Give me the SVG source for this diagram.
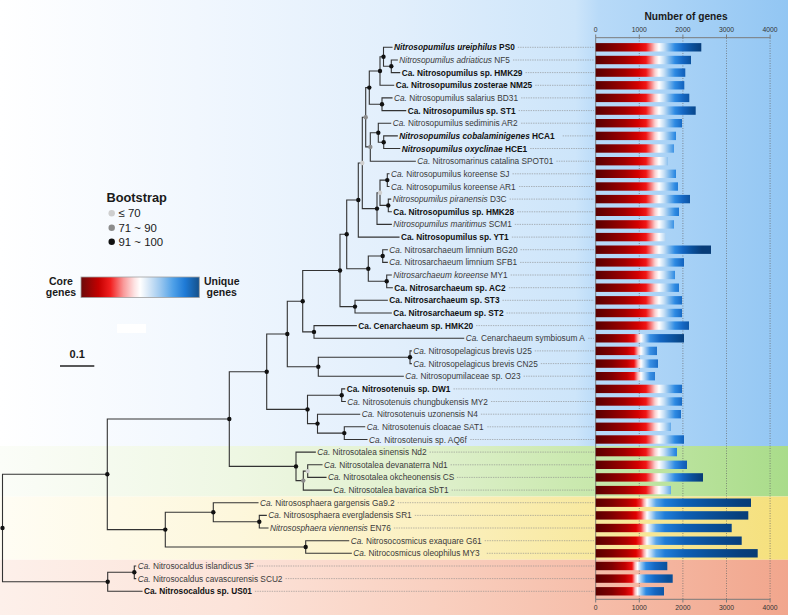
<svg xmlns="http://www.w3.org/2000/svg" width="788" height="615" viewBox="0 0 788 615">
<style>
.edge{fill:none;stroke:#333;stroke-width:1.1;stroke-linecap:square}
.lead{fill:none;stroke:#8a8a8a;stroke-width:0.6;stroke-dasharray:1.4 1}
.lb{font-family:"Liberation Sans",Arial,sans-serif;font-size:8.3px;fill:#3a3a3a}
.b{font-weight:bold;fill:#111}
.i{font-style:italic}
.d1{fill:#111}.d2{fill:#8c8c8c}.d3{fill:#cfcfcf}
.grid{stroke:#666;stroke-width:0.7;stroke-dasharray:1 1.5}
.ax{stroke:#7a7a7a;stroke-width:1;fill:none}
.tk{font-family:"Liberation Sans",Arial,sans-serif;font-size:6.8px;fill:#333;text-anchor:middle}
.lg{font-family:"Liberation Sans",Arial,sans-serif;fill:#1a1a1a}
.bar{height:8.4px}
</style>
<defs>
<linearGradient id="bgB" x1="0" y1="0" x2="788" y2="0" gradientUnits="userSpaceOnUse">
<stop offset="0" stop-color="#ffffff"/><stop offset="0.25" stop-color="#f1f7fe"/><stop offset="0.5" stop-color="#e2effc"/><stop offset="0.73" stop-color="#cde5fa"/><stop offset="0.76" stop-color="#b8daf8"/><stop offset="1" stop-color="#92c6f3"/>
</linearGradient>
<linearGradient id="bgG" x1="0" y1="0" x2="788" y2="0" gradientUnits="userSpaceOnUse">
<stop offset="0" stop-color="#fbfdf8"/><stop offset="0.3" stop-color="#eef7e3"/><stop offset="0.55" stop-color="#dff0cc"/><stop offset="0.75" stop-color="#c8e8ac"/><stop offset="1" stop-color="#a9dc8a"/>
</linearGradient>
<linearGradient id="bgY" x1="0" y1="0" x2="788" y2="0" gradientUnits="userSpaceOnUse">
<stop offset="0" stop-color="#fffdf4"/><stop offset="0.3" stop-color="#fdf7dc"/><stop offset="0.55" stop-color="#fbf0c0"/><stop offset="0.75" stop-color="#f8e9a0"/><stop offset="1" stop-color="#f5e07c"/>
</linearGradient>
<linearGradient id="bgR" x1="0" y1="0" x2="788" y2="0" gradientUnits="userSpaceOnUse">
<stop offset="0" stop-color="#fdf0ea"/><stop offset="0.3" stop-color="#fce3d9"/><stop offset="0.55" stop-color="#f9d0c0"/><stop offset="0.75" stop-color="#f6beaa"/><stop offset="1" stop-color="#f1a68d"/>
</linearGradient>
<linearGradient id="g1" x1="595.7" y1="0" x2="795.7" y2="0" gradientUnits="userSpaceOnUse">
<stop offset="0" stop-color="#5a0000"/><stop offset="0.0715" stop-color="#7a0000"/><stop offset="0.1465" stop-color="#a00000"/><stop offset="0.2115" stop-color="#d40000"/><stop offset="0.2515" stop-color="#f01515"/><stop offset="0.2765" stop-color="#f77a7a"/><stop offset="0.2965" stop-color="#fcd0d0"/><stop offset="0.3165" stop-color="#ffffff"/><stop offset="0.3415" stop-color="#c6dff5"/><stop offset="0.3665" stop-color="#7db8ec"/><stop offset="0.3965" stop-color="#2d8ae3"/><stop offset="0.4365" stop-color="#1466c2"/><stop offset="0.4815" stop-color="#0a4f9a"/><stop offset="0.5315" stop-color="#073c78"/>
</linearGradient>
<linearGradient id="g2" x1="595.7" y1="0" x2="795.7" y2="0" gradientUnits="userSpaceOnUse">
<stop offset="0" stop-color="#5a0000"/><stop offset="0.0815" stop-color="#7e0000"/><stop offset="0.1565" stop-color="#b00000"/><stop offset="0.2015" stop-color="#e00000"/><stop offset="0.2265" stop-color="#f53a3a"/><stop offset="0.2415" stop-color="#fbb0b0"/><stop offset="0.2565" stop-color="#ffffff"/><stop offset="0.2765" stop-color="#bcdaf5"/><stop offset="0.3015" stop-color="#5aa6ea"/><stop offset="0.3465" stop-color="#1f7cd8"/><stop offset="0.4465" stop-color="#0d5fb5"/><stop offset="0.5715" stop-color="#0a4f98"/><stop offset="0.7215" stop-color="#073f7d"/><stop offset="0.8215" stop-color="#063a72"/>
</linearGradient>
<linearGradient id="g3" x1="595.7" y1="0" x2="795.7" y2="0" gradientUnits="userSpaceOnUse">
<stop offset="0" stop-color="#5a0000"/><stop offset="0.0815" stop-color="#800000"/><stop offset="0.1465" stop-color="#c00000"/><stop offset="0.1815" stop-color="#f01010"/><stop offset="0.1965" stop-color="#fbbbbb"/><stop offset="0.209" stop-color="#ffffff"/><stop offset="0.2265" stop-color="#9ccbf2"/><stop offset="0.2515" stop-color="#2d8ae3"/><stop offset="0.2965" stop-color="#1466c2"/><stop offset="0.3615" stop-color="#0a4f98"/>
</linearGradient>
<linearGradient id="g4" x1="595.7" y1="0" x2="795.7" y2="0" gradientUnits="userSpaceOnUse">
<stop offset="0" stop-color="#5a0000"/><stop offset="0.0815" stop-color="#800000"/><stop offset="0.1565" stop-color="#c00000"/><stop offset="0.1915" stop-color="#f01010"/><stop offset="0.2115" stop-color="#fbbbbb"/><stop offset="0.2265" stop-color="#ffffff"/><stop offset="0.2465" stop-color="#aad0f3"/><stop offset="0.2715" stop-color="#3a90e4"/><stop offset="0.3215" stop-color="#1466c2"/><stop offset="0.3965" stop-color="#0a4f98"/><stop offset="0.4465" stop-color="#073f7c"/>
</linearGradient>
<linearGradient id="lgd" x1="0" y1="0" x2="1" y2="0">
<stop offset="0" stop-color="#6b0a0a"/><stop offset="0.15" stop-color="#c40000"/><stop offset="0.25" stop-color="#f22020"/><stop offset="0.36" stop-color="#f99a9a"/><stop offset="0.45" stop-color="#fde2e2"/><stop offset="0.5" stop-color="#ffffff"/><stop offset="0.57" stop-color="#d8e8f7"/><stop offset="0.67" stop-color="#9cc8ef"/><stop offset="0.78" stop-color="#4ea0e8"/><stop offset="0.88" stop-color="#1e7ad6"/><stop offset="1" stop-color="#15508a"/>
</linearGradient>
</defs>

<g id="background">
<rect x="0" y="0" width="788" height="446" fill="url(#bgB)"/>
<rect x="0" y="446" width="788" height="50.5" fill="url(#bgG)"/>
<rect x="0" y="496.5" width="788" height="63.3" fill="url(#bgY)"/>
<rect x="0" y="559.8" width="788" height="55.2" fill="url(#bgR)"/>
<rect x="117" y="324" width="29" height="9" fill="#ffffff"/>
</g>

<g id="axes">
<text x="686" y="19.5" class="lg" font-size="10.2" font-weight="bold" text-anchor="middle">Number of genes</text>
<path class="ax" d="M595.7 37.7H770.5M595.7 599.3H770.5"/>
<path class="ax" d="M595.7 34.5V37.7M639.3 34.5V37.7M682.9 34.5V37.7M726.5 34.5V37.7M770.1 34.5V37.7M595.7 599.3V602.5M639.3 599.3V602.5M682.9 599.3V602.5M726.5 599.3V602.5M770.1 599.3V602.5"/>
<path class="grid" d="M639.3 38V599M682.9 38V599M726.5 38V599M770.1 38V599"/>
<line x1="595.7" y1="37.7" x2="595.7" y2="599.3" stroke="#666" stroke-width="0.8"/>
<text class="tk" x="595.7" y="32.3">0</text><text class="tk" x="639.3" y="32.3">1000</text><text class="tk" x="682.9" y="32.3">2000</text><text class="tk" x="726.5" y="32.3">3000</text><text class="tk" x="770.1" y="32.3">4000</text>
<text class="tk" x="595.7" y="609.5">0</text><text class="tk" x="639.3" y="609.5">1000</text><text class="tk" x="682.9" y="609.5">2000</text><text class="tk" x="726.5" y="609.5">3000</text><text class="tk" x="770.1" y="609.5">4000</text>
</g>

<g id="legend-bootstrap">
<text x="136.7" y="201.8" class="lg" font-size="12.8" font-weight="bold" text-anchor="middle">Bootstrap</text>
<circle cx="111.7" cy="213.3" r="3.2" class="d3"/><text x="118.5" y="217.3" class="lg" font-size="11.4">≤ 70</text>
<circle cx="111.7" cy="227.7" r="3.2" class="d2"/><text x="118.5" y="231.7" class="lg" font-size="11.4">71 ~ 90</text>
<circle cx="111.7" cy="241.7" r="3.2" class="d1"/><text x="118.5" y="245.7" class="lg" font-size="11.4">91 ~ 100</text>
</g>
<g id="legend-colour">
<rect x="81" y="277" width="118.3" height="20.5" fill="url(#lgd)" stroke="#a0a0a0" stroke-width="0.8"/>
<text x="61" y="284.6" class="lg" font-size="10.5" font-weight="bold" text-anchor="middle">Core</text>
<text x="61" y="295.6" class="lg" font-size="10.5" font-weight="bold" text-anchor="middle">genes</text>
<text x="221.7" y="284.6" class="lg" font-size="10.5" font-weight="bold" text-anchor="middle">Unique</text>
<text x="221.7" y="295.6" class="lg" font-size="10.5" font-weight="bold" text-anchor="middle">genes</text>
</g>
<g id="scale-bar">
<text x="77.2" y="358" class="lg" font-size="11" font-weight="bold" text-anchor="middle">0.1</text>
<line x1="60" y1="366" x2="94.3" y2="366" stroke="#222" stroke-width="1.5"/>
</g>

<g id="connectors">
<path class="edge" d="M397.3 60H391.3V72.6H399.7M392 47.3H383.5V66.3H391.3M383.5 56.8H380V85.3H393.7M392 97.9H382V110.6H405.7M380 71H369.3V104.2H382M397.3 135.9H383.7V148.5H399.7M390.7 123.2H378.3V142.2H383.7M378.3 132.7H370.3V161.2H415.3M369.3 87.6H365.7V146.9H370.3M389 173.8H387.3V186.5H389M390.7 199.1H388.3V211.8H391.3M387.3 180.1H380V205.4H388.3M380 192.8H377V224.4H391.3M365.7 117.3H362.3V208.6H377M362.3 163H358.3V237.1H399M387.3 249.7H382.7V262.4H387.3M391.3 275H386.7V287.7H392.3M382.7 256H368.3V281.3H386.7M358.3 200H346.7V268.7H368.3M387.3 300.3H355V313H391.3M346.7 234.3H340V306.6H355M356.3 325.6H314V338.3H463.7M340 270.5H302.7V331.9H314M411.3 350.9H410V363.6H411.3M410 357.2H318.3V376.2H403.3M302.7 301.2H287.3V366.7H318.3M344.7 388.9H341.7V401.5H345.3M364.7 426.8H344.3V439.5H367M359.7 414.2H317.5V433.1H344.3M341.7 395.2H307.5V423.6H317.5M287.3 334H266.7V409.4H307.5M322 464.8H307.7V477.4H326M307.7 471.1H303.3V490.1H331.3M315.3 452.1H296V480.6H303.3M266.7 371.7H229.3V466.4H296M266.3 515.4H259.3V528H268M258 502.7H213.3V521.7H259.3M348.7 540.7H305.7V553.3H351.3M213.3 512.2H165.3V547H305.7M229.3 419H107.3V529.6H165.3M135.7 566H134.3V578.6H135.7M134.3 572.3H107.7V591.3H142M107.3 474.3H2.5V581.8H107.7"/>
<path class="lead" d="M517.8 47.3H594M513 60H594M525.5 72.6H594M535.2 85.3H594M521.1 97.9H594M518.6 110.6H594M521.1 123.2H594M562.7 135.9H594M530.2 148.5H594M556.4 161.2H594M512.5 173.8H594M519 186.5H594M509.6 199.1H594M517.1 211.8H594M514.8 224.4H594M511.9 237.1H594M520.5 249.7H594M520.1 262.4H594M510.7 275H594M508.9 287.7H594M502.5 300.3H594M506.5 313H594M476.1 325.6H594M588.2 338.3H594M534.8 350.9H594M540.8 363.6H594M523.6 376.2H594M453.5 388.9H594M491 401.5H594M480.9 414.2H594M487.3 426.8H594M470.3 439.5H594M429.6 452.1H594M450.6 464.8H594M456.9 477.4H594M451.6 490.1H594M397.7 502.7H594M414.8 515.4H594M393.9 528H594M484.7 540.7H594M486.8 553.3H594M256.9 566H594M285.5 578.6H594M254.9 591.3H594"/>
</g>

<g id="internal-nodes">
<circle id="n-a" cx="391.3" cy="66.3" r="2.2" class="d1"/>
<circle id="n-b" cx="383.5" cy="56.8" r="2.2" class="d1"/>
<circle id="n-c" cx="380" cy="71" r="2.2" class="d1"/>
<circle id="n-d" cx="382" cy="104.2" r="2.2" class="d1"/>
<circle id="n-e" cx="369.3" cy="87.6" r="2.2" class="d1"/>
<circle id="n-f" cx="383.7" cy="142.2" r="2.2" class="d1"/>
<circle id="n-g" cx="378.3" cy="132.7" r="2.2" class="d1"/>
<circle id="n-h" cx="370.3" cy="146.9" r="2.2" class="d2"/>
<circle id="n-i" cx="365.7" cy="117.3" r="2.2" class="d2"/>
<circle id="n-j" cx="387.3" cy="180.1" r="2.2" class="d1"/>
<circle id="n-k" cx="388.3" cy="205.4" r="2.2" class="d1"/>
<circle id="n-l" cx="380" cy="192.8" r="2.2" class="d3"/>
<circle id="n-m" cx="377" cy="208.6" r="2.2" class="d1"/>
<circle id="n-n" cx="362.3" cy="163" r="2.2" class="d3"/>
<circle id="n-o" cx="358.3" cy="200" r="2.2" class="d1"/>
<circle id="n-p" cx="382.7" cy="256" r="2.2" class="d1"/>
<circle id="n-q" cx="386.7" cy="281.3" r="2.2" class="d1"/>
<circle id="n-r" cx="368.3" cy="268.7" r="2.2" class="d1"/>
<circle id="n-s" cx="346.7" cy="234.3" r="2.2" class="d1"/>
<circle id="n-t" cx="355" cy="306.6" r="2.2" class="d1"/>
<circle id="n-u" cx="340" cy="270.5" r="2.2" class="d1"/>
<circle id="n-v" cx="314" cy="331.9" r="2.2" class="d1"/>
<circle id="n-w" cx="302.7" cy="301.2" r="2.2" class="d1"/>
<circle id="n-x" cx="410" cy="357.2" r="2.2" class="d1"/>
<circle id="n-y" cx="318.3" cy="366.7" r="2.2" class="d1"/>
<circle id="n-z" cx="287.3" cy="334" r="2.2" class="d1"/>
<circle id="n-t1" cx="341.7" cy="395.2" r="2.2" class="d1"/>
<circle id="n-t2" cx="344.3" cy="433.1" r="2.2" class="d1"/>
<circle id="n-t3" cx="317.5" cy="423.6" r="2.2" class="d1"/>
<circle id="n-t4" cx="307.5" cy="409.4" r="2.2" class="d1"/>
<circle id="n-aa" cx="266.7" cy="371.7" r="2.2" class="d1"/>
<circle id="n-s1" cx="307.7" cy="471.1" r="2.2" class="d3"/>
<circle id="n-s2" cx="303.3" cy="480.6" r="2.2" class="d2"/>
<circle id="n-s3" cx="296" cy="466.4" r="2.2" class="d1"/>
<circle id="n-bb" cx="229.3" cy="419" r="2.2" class="d1"/>
<circle id="n-p1" cx="259.3" cy="521.7" r="2.2" class="d1"/>
<circle id="n-p2" cx="213.3" cy="512.2" r="2.2" class="d1"/>
<circle id="n-p3" cx="305.7" cy="547" r="2.2" class="d1"/>
<circle id="n-p4" cx="165.3" cy="529.6" r="2.2" class="d1"/>
<circle id="n-cc" cx="107.3" cy="474.3" r="2.2" class="d1"/>
<circle id="n-c1" cx="134.3" cy="572.3" r="2.2" class="d1"/>
<circle id="n-c2" cx="107.7" cy="581.8" r="2.2" class="d1"/>
<circle id="n-root" cx="2.5" cy="528" r="2.2" class="d1"/>
</g>

<g id="leaves">
<g id="leaf-PS0"><text x="394" y="50.3" class="lb b"><tspan class="i">Nitrosopumilus ureiphilus</tspan> PS0</text><rect x="595.7" y="43.1" width="105.6" height="8.4" fill="url(#g1)"/></g>
<g id="leaf-NF5"><text x="399.3" y="63" class="lb"><tspan class="i">Nitrosopumilus adriaticus</tspan> NF5</text><rect x="595.7" y="55.8" width="95.3" height="8.4" fill="url(#g1)"/></g>
<g id="leaf-HMK29"><text x="401.7" y="75.6" class="lb b">Ca. Nitrosopumilus sp. HMK29</text><rect x="595.7" y="68.4" width="89.6" height="8.4" fill="url(#g1)"/></g>
<g id="leaf-NM25"><text x="395.7" y="88.3" class="lb b">Ca. Nitrosopumilus zosterae NM25</text><rect x="595.7" y="81.1" width="88.6" height="8.4" fill="url(#g1)"/></g>
<g id="leaf-BD31"><text x="394" y="100.9" class="lb"><tspan class="i">Ca.</tspan> Nitrosopumilus salarius BD31</text><rect x="595.7" y="93.7" width="93.6" height="8.4" fill="url(#g1)"/></g>
<g id="leaf-ST1"><text x="407.7" y="113.6" class="lb b">Ca. Nitrosopumilus sp. ST1</text><rect x="595.7" y="106.4" width="100" height="8.4" fill="url(#g1)"/></g>
<g id="leaf-AR2"><text x="392.7" y="126.2" class="lb"><tspan class="i">Ca.</tspan> Nitrosopumilus sediminis AR2</text><rect x="595.7" y="119" width="86.3" height="8.4" fill="url(#g1)"/></g>
<g id="leaf-HCA1"><text x="399.3" y="138.9" class="lb b"><tspan class="i">Nitrosopumilus cobalaminigenes</tspan> HCA1</text><rect x="595.7" y="131.7" width="80.3" height="8.4" fill="url(#g1)"/></g>
<g id="leaf-HCE1"><text x="401.7" y="151.5" class="lb b"><tspan class="i">Nitrosopumilus oxyclinae</tspan> HCE1</text><rect x="595.7" y="144.3" width="78.3" height="8.4" fill="url(#g1)"/></g>
<g id="leaf-SPOT01"><text x="417.3" y="164.2" class="lb"><tspan class="i">Ca.</tspan> Nitrosomarinus catalina SPOT01</text><rect x="595.7" y="157" width="72.3" height="8.4" fill="url(#g1)"/></g>
<g id="leaf-SJ"><text x="391" y="176.8" class="lb"><tspan class="i">Ca.</tspan> Nitrosopumilus koreense SJ</text><rect x="595.7" y="169.6" width="80.3" height="8.4" fill="url(#g1)"/></g>
<g id="leaf-AR1"><text x="391" y="189.5" class="lb"><tspan class="i">Ca.</tspan> Nitrosopumilus koreense AR1</text><rect x="595.7" y="182.3" width="82.3" height="8.4" fill="url(#g1)"/></g>
<g id="leaf-D3C"><text x="392.7" y="202.1" class="lb"><tspan class="i">Nitrosopumilus piranensis</tspan> D3C</text><rect x="595.7" y="194.9" width="94.3" height="8.4" fill="url(#g1)"/></g>
<g id="leaf-HMK28"><text x="393.3" y="214.8" class="lb b">Ca. Nitrosopumilus sp. HMK28</text><rect x="595.7" y="207.6" width="83.3" height="8.4" fill="url(#g1)"/></g>
<g id="leaf-SCM1"><text x="393.3" y="227.4" class="lb"><tspan class="i">Nitrosopumilus maritimus</tspan> SCM1</text><rect x="595.7" y="220.2" width="78.3" height="8.4" fill="url(#g1)"/></g>
<g id="leaf-YT1"><text x="401" y="240.1" class="lb b">Ca. Nitrosopumilus sp. YT1</text><rect x="595.7" y="232.9" width="70.3" height="8.4" fill="url(#g1)"/></g>
<g id="leaf-BG20"><text x="389.3" y="252.7" class="lb"><tspan class="i">Ca.</tspan> Nitrosarchaeum limnium BG20</text><rect x="595.7" y="245.5" width="115.3" height="8.4" fill="url(#g1)"/></g>
<g id="leaf-SFB1"><text x="389.3" y="265.4" class="lb"><tspan class="i">Ca.</tspan> Nitrosarchaeum limnium SFB1</text><rect x="595.7" y="258.2" width="88.3" height="8.4" fill="url(#g1)"/></g>
<g id="leaf-MY1"><text x="393.3" y="278" class="lb"><tspan class="i">Nitrosarchaeum koreense</tspan> MY1</text><rect x="595.7" y="270.8" width="79.3" height="8.4" fill="url(#g1)"/></g>
<g id="leaf-AC2"><text x="394.3" y="290.7" class="lb b">Ca. Nitrosarchaeum sp. AC2</text><rect x="595.7" y="283.5" width="83.3" height="8.4" fill="url(#g1)"/></g>
<g id="leaf-ST3"><text x="389.3" y="303.3" class="lb b">Ca. Nitrosarchaeum sp. ST3</text><rect x="595.7" y="296.1" width="86.3" height="8.4" fill="url(#g1)"/></g>
<g id="leaf-ST2"><text x="393.3" y="316" class="lb b">Ca. Nitrosarchaeum sp. ST2</text><rect x="595.7" y="308.8" width="86.3" height="8.4" fill="url(#g1)"/></g>
<g id="leaf-HMK20"><text x="358.3" y="328.6" class="lb b">Ca. Cenarchaeum sp. HMK20</text><rect x="595.7" y="321.4" width="93.3" height="8.4" fill="url(#g1)"/></g>
<g id="leaf-symbiosumA"><text x="465.7" y="341.3" class="lb"><tspan class="i">Ca.</tspan> Cenarchaeum symbiosum A</text><rect x="595.7" y="334.1" width="88.3" height="8.4" fill="url(#g4)"/></g>
<g id="leaf-U25"><text x="413.3" y="353.9" class="lb"><tspan class="i">Ca.</tspan> Nitrosopelagicus brevis U25</text><rect x="595.7" y="346.7" width="61.3" height="8.4" fill="url(#g4)"/></g>
<g id="leaf-CN25"><text x="413.3" y="366.6" class="lb"><tspan class="i">Ca.</tspan> Nitrosopelagicus brevis CN25</text><rect x="595.7" y="359.4" width="62.3" height="8.4" fill="url(#g4)"/></g>
<g id="leaf-O23"><text x="405.3" y="379.2" class="lb"><tspan class="i">Ca.</tspan> Nitrosopumilaceae sp. O23</text><rect x="595.7" y="372" width="59.3" height="8.4" fill="url(#g4)"/></g>
<g id="leaf-DW1"><text x="346.7" y="391.9" class="lb b">Ca. Nitrosotenuis sp. DW1</text><rect x="595.7" y="384.7" width="86.3" height="8.4" fill="url(#g1)"/></g>
<g id="leaf-MY2"><text x="347.3" y="404.5" class="lb"><tspan class="i">Ca.</tspan> Nitrosotenuis chungbukensis MY2</text><rect x="595.7" y="397.3" width="86.3" height="8.4" fill="url(#g1)"/></g>
<g id="leaf-N4"><text x="361.7" y="417.2" class="lb"><tspan class="i">Ca.</tspan> Nitrosotenuis uzonensis N4</text><rect x="595.7" y="410" width="85.3" height="8.4" fill="url(#g1)"/></g>
<g id="leaf-SAT1"><text x="366.7" y="429.8" class="lb"><tspan class="i">Ca.</tspan> Nitrosotenuis cloacae SAT1</text><rect x="595.7" y="422.6" width="75.3" height="8.4" fill="url(#g1)"/></g>
<g id="leaf-AQ6f"><text x="369" y="442.5" class="lb"><tspan class="i">Ca.</tspan> Nitrosotenuis sp. AQ6f</text><rect x="595.7" y="435.3" width="88.3" height="8.4" fill="url(#g1)"/></g>
<g id="leaf-Nd2"><text x="317.3" y="455.1" class="lb"><tspan class="i">Ca.</tspan> Nitrosotalea sinensis Nd2</text><rect x="595.7" y="447.9" width="81.3" height="8.4" fill="url(#g1)"/></g>
<g id="leaf-Nd1"><text x="324" y="467.8" class="lb"><tspan class="i">Ca.</tspan> Nitrosotalea devanaterra Nd1</text><rect x="595.7" y="460.6" width="91.3" height="8.4" fill="url(#g1)"/></g>
<g id="leaf-CS"><text x="328" y="480.4" class="lb"><tspan class="i">Ca.</tspan> Nitrosotalea okcheonensis CS</text><rect x="595.7" y="473.2" width="107.3" height="8.4" fill="url(#g1)"/></g>
<g id="leaf-SbT1"><text x="333.3" y="493.1" class="lb"><tspan class="i">Ca.</tspan> Nitrosotalea bavarica SbT1</text><rect x="595.7" y="485.9" width="75.3" height="8.4" fill="url(#g1)"/></g>
<g id="leaf-Ga9.2"><text x="260" y="505.7" class="lb"><tspan class="i">Ca.</tspan> Nitrososphaera gargensis Ga9.2</text><rect x="595.7" y="498.5" width="155.3" height="8.4" fill="url(#g2)"/></g>
<g id="leaf-SR1"><text x="268.3" y="518.4" class="lb"><tspan class="i">Ca.</tspan> Nitrososphaera evergladensis SR1</text><rect x="595.7" y="511.2" width="152.6" height="8.4" fill="url(#g2)"/></g>
<g id="leaf-EN76"><text x="270" y="531" class="lb"><tspan class="i">Nitrososphaera viennensis</tspan> EN76</text><rect x="595.7" y="523.8" width="136" height="8.4" fill="url(#g2)"/></g>
<g id="leaf-G61"><text x="350.7" y="543.7" class="lb"><tspan class="i">Ca.</tspan> Nitrosocosmicus exaquare G61</text><rect x="595.7" y="536.5" width="146" height="8.4" fill="url(#g2)"/></g>
<g id="leaf-MY3"><text x="353.3" y="556.3" class="lb"><tspan class="i">Ca.</tspan> Nitrocosmicus oleophilus MY3</text><rect x="595.7" y="549.1" width="162" height="8.4" fill="url(#g2)"/></g>
<g id="leaf-3F"><text x="137.7" y="569" class="lb"><tspan class="i">Ca.</tspan> Nitrosocaldus islandicus 3F</text><rect x="595.7" y="561.8" width="71.6" height="8.4" fill="url(#g3)"/></g>
<g id="leaf-SCU2"><text x="137.7" y="581.6" class="lb"><tspan class="i">Ca.</tspan> Nitrosocaldus cavascurensis SCU2</text><rect x="595.7" y="574.4" width="77" height="8.4" fill="url(#g3)"/></g>
<g id="leaf-US01"><text x="144" y="594.3" class="lb b">Ca. Nitrosocaldus sp. US01</text><rect x="595.7" y="587.1" width="68.3" height="8.4" fill="url(#g3)"/></g>
</g>
</svg>
